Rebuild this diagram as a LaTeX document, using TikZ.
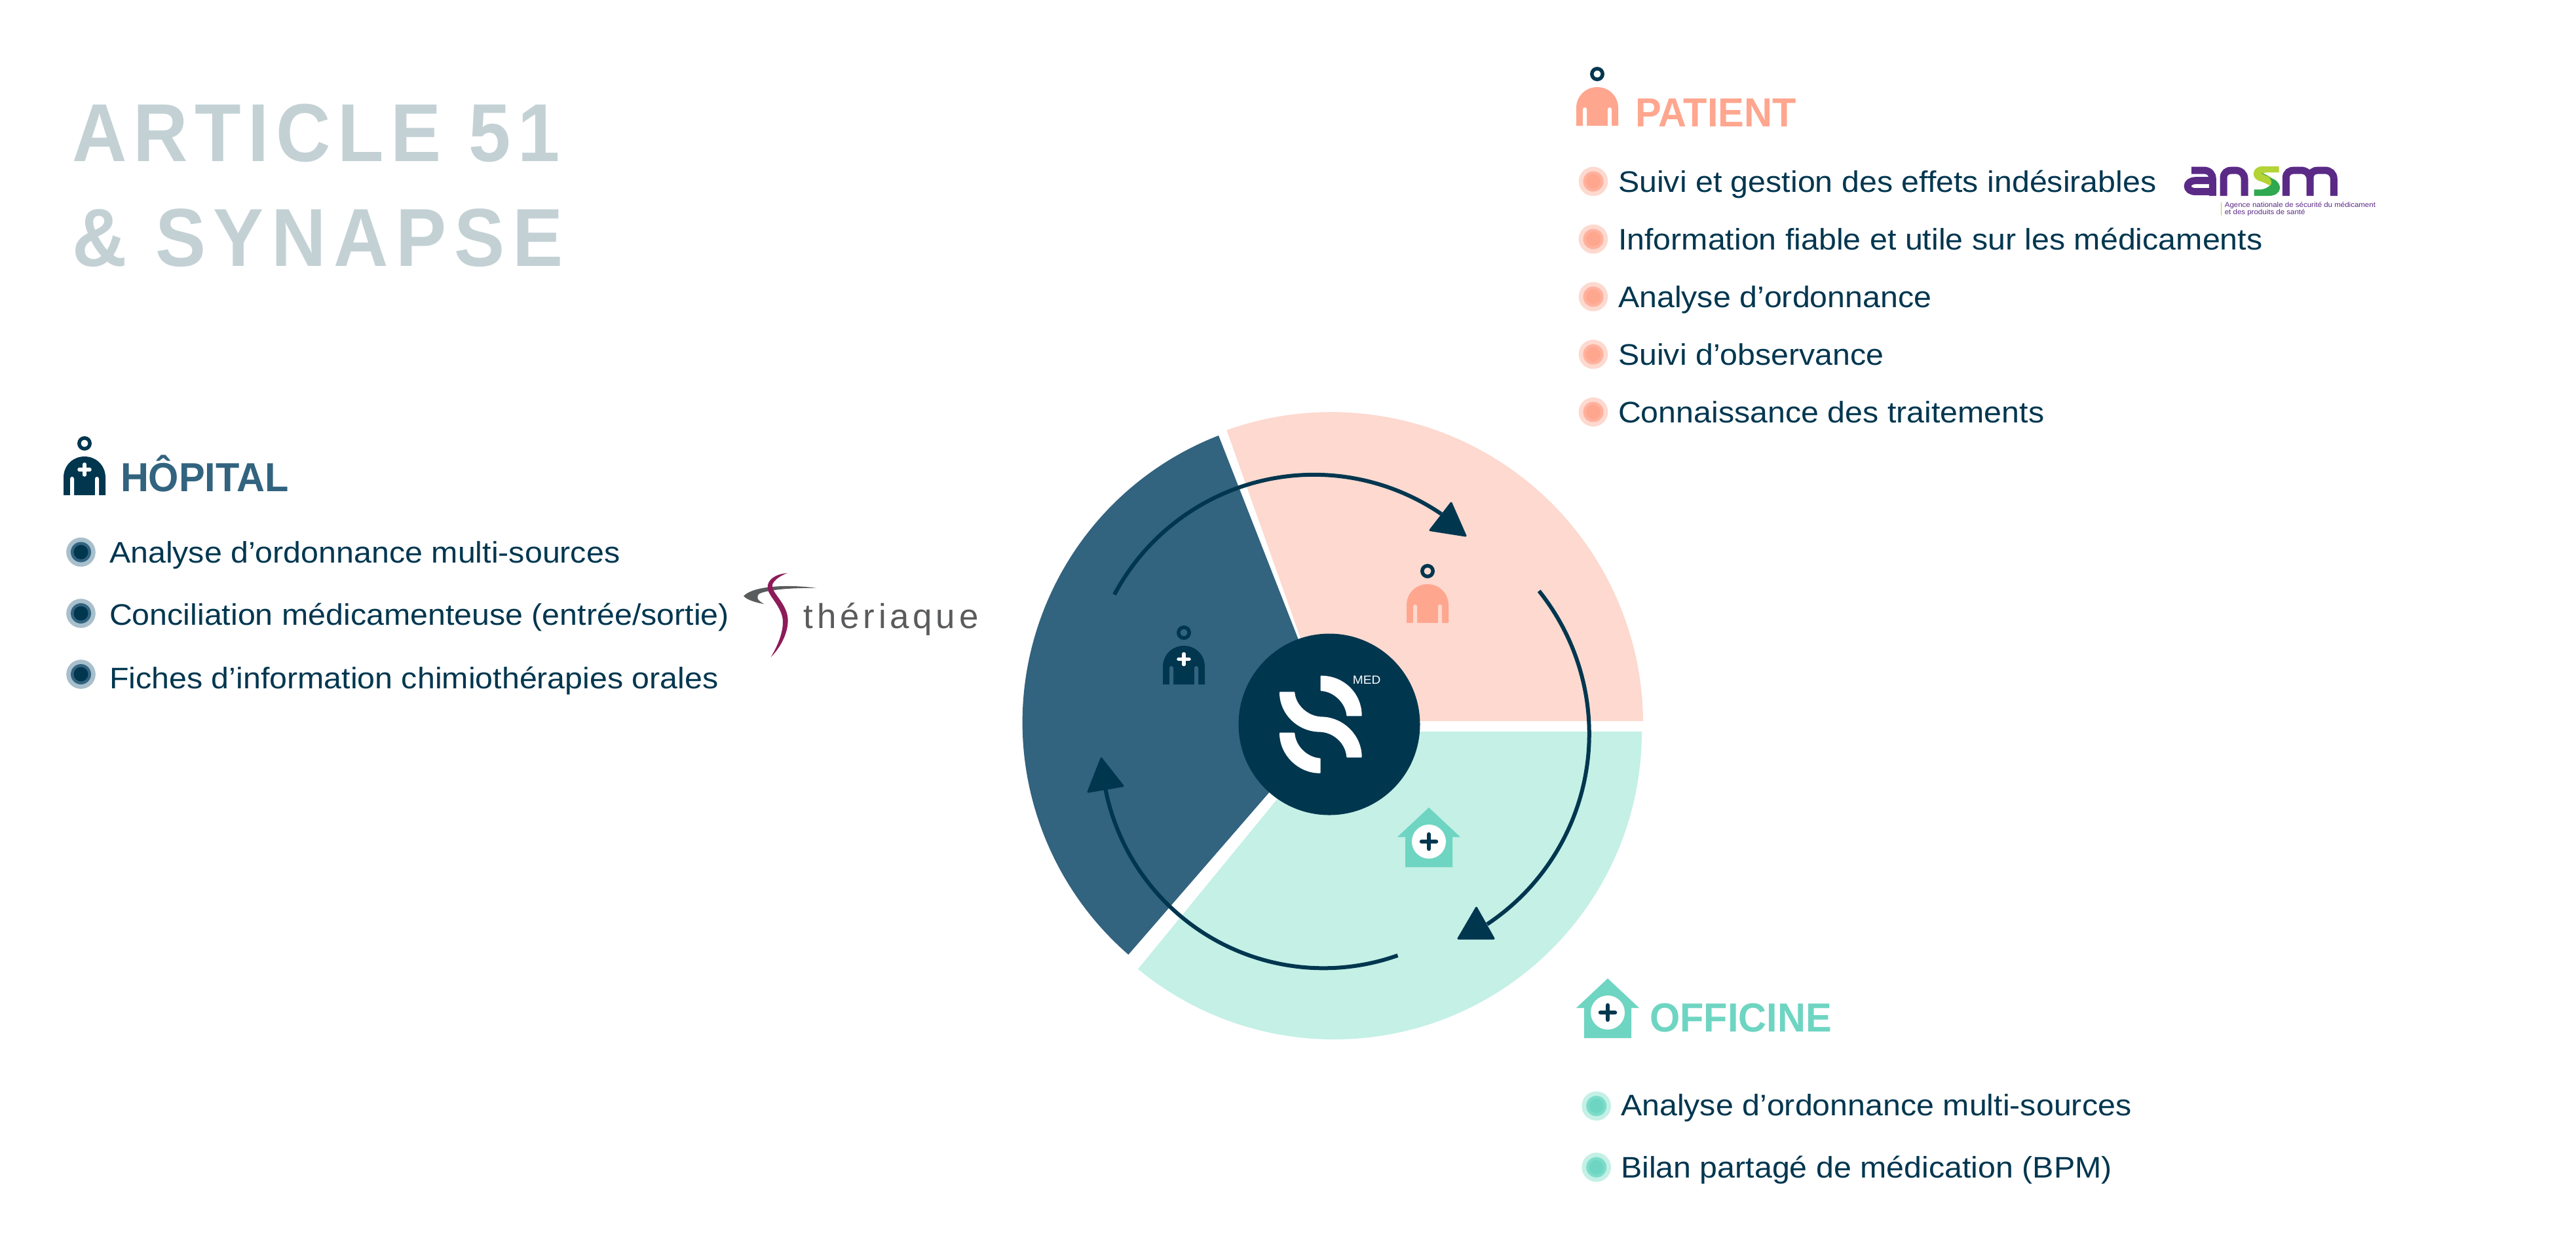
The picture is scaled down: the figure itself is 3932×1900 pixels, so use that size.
\documentclass[tikz,border=0pt]{standalone}
\usepackage{fontspec}
\setmainfont[FakeStretch=1.065]{Liberation Sans}
\newfontfamily\headfont[FakeStretch=0.96]{Liberation Sans Bold}
\newfontfamily\titlefont[FakeStretch=0.92,LetterSpace=8.3]{Liberation Sans Bold}
\newfontfamily\titlefontb[FakeStretch=0.92,LetterSpace=9.3]{Liberation Sans Bold}
\newfontfamily\logofont[LetterSpace=11]{Liberation Sans}
\definecolor{dark}{HTML}{01364F}
\definecolor{navy}{HTML}{32637F}
\definecolor{navylt}{HTML}{A8BFCC}
\definecolor{salmon}{HTML}{FFA68F}
\definecolor{salmonmid}{HTML}{FFB19D}
\definecolor{pinklt}{HTML}{FDD9CF}
\definecolor{teal}{HTML}{6ED5C2}
\definecolor{tealmid}{HTML}{7CDCCA}
\definecolor{teallt}{HTML}{C4F0E6}
\definecolor{titlecol}{HTML}{C3D1D5}
\definecolor{anspurple}{HTML}{5B2A86}
\definecolor{ansgreen}{HTML}{2FA84F}
\definecolor{anslime}{HTML}{B4D335}
\definecolor{themag}{HTML}{8E1B59}
\definecolor{thegray}{HTML}{5A5B5D}
\def\u{0.25pt}
\tikzset{
  txt/.style={anchor=base west,inner sep=0pt,outer sep=0pt,text=dark,font=\fontsize{11.35pt}{13pt}\selectfont},
  head/.style={anchor=base west,inner sep=0pt,outer sep=0pt,font=\fontsize{15.5pt}{18pt}\headfont},
  ttl/.style={anchor=base west,inner sep=0pt,outer sep=0pt,text=titlecol},
  flowline/.style={draw=dark,line width=6*\u},
  flowtip/.style={fill=dark,draw=dark,line width=3*\u,line join=round},
  sband/.style={fill=white,draw=white,line width=2*\u,line join=round}
}
% person icon: cx, head y, body colour, slit colour, head colour
\newcommand{\personicon}[5]{%
  \begin{scope}[shift={(#1,-#2)}]
    \draw[#5,line width=5.5*\u] (0,0) circle[radius=8.2*\u];
    \fill[#3] (-32,-79) -- (-28,-79) -- (-28,-79) -- (28,-79) -- (32,-79)
      .. controls (32,-79) and (32,-79) .. (32,-75) -- (32,-52)
      .. controls (32,-34) and (18,-20) .. (0,-20)
      .. controls (-18,-20) and (-32,-34) .. (-32,-52) -- (-32,-75)
      .. controls (-32,-77.5) and (-32,-79) .. (-32,-79) -- cycle;
    \fill[#4] (-22,-80) -- (-22,-54) .. controls (-22,-50) and (-16,-50) .. (-16,-54) -- (-16,-80) -- cycle;
    \fill[#4] (16,-80) -- (16,-54) .. controls (16,-50) and (22,-50) .. (22,-54) -- (22,-80) -- cycle;
  \end{scope}}
\newcommand{\whiteplus}[2]{%
  \draw[white,line width=5.5*\u,line cap=round] (#1-8,-#2) -- (#1+8,-#2) (#1,-#2-8) -- (#1,-#2+8);}
% house icon: apex x, apex y
\newcommand{\houseicon}[2]{%
  \begin{scope}[shift={(#1,-#2)}]
    \fill[teal] (0,0) -- (48,-45) -- (36,-45) -- (36,-91) -- (-36,-91) -- (-36,-45) -- (-48,-45) -- cycle;
    \fill[white] (0,-52) circle[radius=26*\u];
    \draw[dark,line width=6.5*\u,line cap=round] (-11,-52) -- (11,-52) (0,-63) -- (0,-41);
  \end{scope}}
\newcommand{\bulletdot}[5]{%
  \fill[#3] (#1,-#2) circle[radius=22.3*\u];
  \fill[#4] (#1,-#2) circle[radius=15.5*\u];
  \fill[#5] (#1,-#2) circle[radius=11*\u];}
\begin{document}
\begin{tikzpicture}[x=\u,y=\u]
\useasboundingbox (0,0) rectangle (3932,-1900);
\fill[white] (0,0) rectangle (3932,-1900);
% title
\node[ttl,font=\fontsize{31.4pt}{36pt}\titlefont] (title1) at (110,-246.7) {ARTICLE 51};
\node[ttl,font=\fontsize{31.4pt}{36pt}\titlefontb] (title2) at (110,-406.7) {\& SYNAPSE};
% wheel sectors
\fill[pinklt] (2030,-1101) -- (2508,-1101) arc[start angle=0.5,end angle=109.6,radius=476*\u] -- cycle;
\fill[navy] (2031,-1102) -- (1860,-665) arc[start angle=111.3,end angle=229,radius=470*\u] -- cycle;
\fill[teallt] (2034,-1117) -- (2506,-1117) arc[start angle=0,end angle=-129.5,radius=470*\u] -- cycle;
% hub
\node[circle,fill=dark,minimum size=277*\u,inner sep=0pt] (hub) at (2029,-1106) {};
% logo S
\begin{scope}[shift={(1850,-950)},x=\u/3,y=\u/3]
 \fill[sband] (500,-248) .. controls (605,-248) and (683,-330) .. (683,-427) -- (619,-427)
    .. controls (615,-370) and (560,-315) .. (500,-312) -- cycle;
 \fill[sband] (312,-322) -- (376,-322) .. controls (380,-380) and (435,-432) .. (497,-436)
    .. controls (600,-436) and (683,-520) .. (683,-617) -- (619,-617)
    .. controls (615,-555) and (560,-503) .. (497,-500)
    .. controls (395,-500) and (312,-420) .. (312,-322) -- cycle;
 \fill[sband] (312,-509) -- (376,-509) .. controls (380,-570) and (435,-622) .. (494,-626)
    -- (494,-689) .. controls (395,-689) and (312,-605) .. (312,-509) -- cycle;
\end{scope}
\node[anchor=base west,inner sep=0pt,text=white,font=\fontsize{4.5pt}{5pt}\selectfont] (med) at (2064,-1044) {MED};
% wheel icons
\personicon{2179}{872}{salmon}{pinklt}{dark}
\personicon{1807}{966}{dark}{navy}{dark}
\whiteplus{1807}{1006.5}
\houseicon{2181}{1233}
% arrows
\draw[flowline] (2005.6,-1069.8) ++(152:345*\u) arc[start angle=152,end angle=55.7,radius=345*\u];
\filldraw[flowtip] (2237,-818) -- (2215,-768) -- (2183,-809.5) -- cycle;
\draw[flowline] (2076.8,-1120.5) ++(38.7:349*\u) arc[start angle=38.7,end angle=-56.4,radius=349*\u];
\filldraw[flowtip] (2226,-1433) -- (2253.5,-1386) -- (2280,-1433) -- cycle;
\draw[flowline] (2020.2,-1139) ++(-70.5:339.3*\u) arc[start angle=-70.5,end angle=-168.8,radius=339.3*\u];
\filldraw[flowtip] (1681,-1158) -- (1714,-1200) -- (1661,-1209) -- cycle;
% PATIENT
\personicon{2438}{113}{salmon}{white}{dark}
\node[head,text=salmon] (patient) at (2496,-193.5) {PATIENT};
\bulletdot{2432}{277}{pinklt}{salmonmid}{salmon}
\bulletdot{2432}{365}{pinklt}{salmonmid}{salmon}
\bulletdot{2432}{453}{pinklt}{salmonmid}{salmon}
\bulletdot{2432}{541}{pinklt}{salmonmid}{salmon}
\bulletdot{2432}{629}{pinklt}{salmonmid}{salmon}
\node[txt] (p1) at (2470,-293) {Suivi et gestion des effets indésirables};
\node[txt] (p2) at (2470,-381) {Information fiable et utile sur les médicaments};
\node[txt] (p3) at (2470,-469) {Analyse d’ordonnance};
\node[txt] (p4) at (2470,-557) {Suivi d’observance};
\node[txt] (p5) at (2470,-645) {Connaissance des traitements};
% ANSM logo
\begin{scope}[shift={(3320,-230)},x=\u/3,y=\u/3]
 \draw[anspurple,line width=11*\u] (75,-90) -- (130,-90) .. controls (160,-90) and (172,-110) .. (172,-130) -- (172,-207);
 \draw[anspurple,line width=11*\u] (172,-188) -- (95,-188) .. controls (45,-188) and (45,-137) .. (95,-137) -- (172,-137);
 \draw[anspurple,line width=11*\u] (222,-207) -- (222,-125) .. controls (222,-100) and (240,-90) .. (260,-90) -- (275,-90) .. controls (300,-90) and (318,-105) .. (318,-130) -- (318,-207);
 \fill[anslime] (476,-72) -- (400,-72) .. controls (350,-72) and (345,-130) .. (390,-140) .. controls (420,-150) and (445,-165) .. (450,-175) .. controls (470,-150) and (445,-120) .. (420,-112) .. controls (395,-105) and (400,-100) .. (430,-100) -- (476,-100) -- cycle;
 \fill[ansgreen] (362,-207) -- (430,-207) .. controls (490,-207) and (495,-150) .. (450,-130) .. controls (430,-122) and (395,-105) .. (395,-102) .. controls (440,-115) and (445,-145) .. (440,-155) .. controls (430,-165) and (415,-175) .. (395,-178) -- (362,-178) -- cycle;
 \draw[anspurple,line width=11*\u] (508,-207) -- (508,-125) .. controls (508,-100) and (525,-90) .. (545,-90) -- (575,-90) .. controls (600,-90) and (618,-105) .. (618,-130) -- (618,-207);
 \draw[anspurple,line width=11*\u] (618,-125) .. controls (618,-100) and (635,-90) .. (655,-90) -- (685,-90) .. controls (710,-90) and (727,-105) .. (727,-130) -- (727,-207);
 \draw[anslime,line width=1.5*\u] (212,-237) -- (212,-297);
\end{scope}
\node[anchor=base west,inner sep=0pt,text=anspurple,font=\fontsize{2.7pt}{3pt}\selectfont] (ans1) at (3395,-316) {Agence nationale de sécurité du médicament};
\node[anchor=base west,inner sep=0pt,text=anspurple,font=\fontsize{2.7pt}{3pt}\selectfont] (ans2) at (3395,-327.5) {et des produits de santé};
% HOPITAL
\personicon{129}{677}{dark}{white}{dark}
\whiteplus{129}{717}
\node[head,text=navy] (hopital) at (184,-750.5) {HÔPITAL};
\bulletdot{123.5}{843}{navylt}{navy}{dark}
\bulletdot{123.5}{936.5}{navylt}{navy}{dark}
\bulletdot{123.5}{1029.5}{navylt}{navy}{dark}
\node[txt] (h1) at (167,-859) {Analyse d’ordonnance multi-sources};
\node[txt] (h2) at (167,-954.5) {Conciliation médicamenteuse (entrée/sortie)};
\node[txt] (h3) at (167,-1051) {Fiches d’information chimiothérapies orales};
% theriaque logo
\begin{scope}[shift={(1120,-860)},x=\u/3,y=\u/3]
 \fill[thegray] (378,-114) .. controls (290,-100) and (100,-95) .. (45,-150) .. controls (60,-168) and (100,-180) .. (140,-187) .. controls (105,-170) and (100,-150) .. (120,-138) .. controls (170,-118) and (290,-112) .. (378,-114) -- cycle;
 \fill[themag] (245,-45) .. controls (190,-50) and (152,-75) .. (155,-115) .. controls (158,-150) and (222,-200) .. (225,-265) .. controls (226,-320) and (200,-380) .. (170,-430) .. controls (215,-385) and (248,-320) .. (248,-262) .. controls (248,-190) and (178,-140) .. (176,-105) .. controls (176,-85) and (205,-60) .. (245,-45) -- cycle;
\end{scope}
\node[anchor=base west,inner sep=0pt,text=thegray,font=\fontsize{13.2pt}{15pt}\logofont] (ther) at (1226,-959.5) {thériaque};
% OFFICINE
\houseicon{2454}{1494}
\node[head,text=teal] (officine) at (2518,-1575.5) {OFFICINE};
\bulletdot{2436.7}{1688.7}{teallt}{tealmid}{teal}
\bulletdot{2436.7}{1782.3}{teallt}{tealmid}{teal}
\node[txt] (o1) at (2474,-1703.5) {Analyse d’ordonnance multi-sources};
\node[txt] (o2) at (2474,-1798.5) {Bilan partagé de médication (BPM)};
\end{tikzpicture}
\end{document}
